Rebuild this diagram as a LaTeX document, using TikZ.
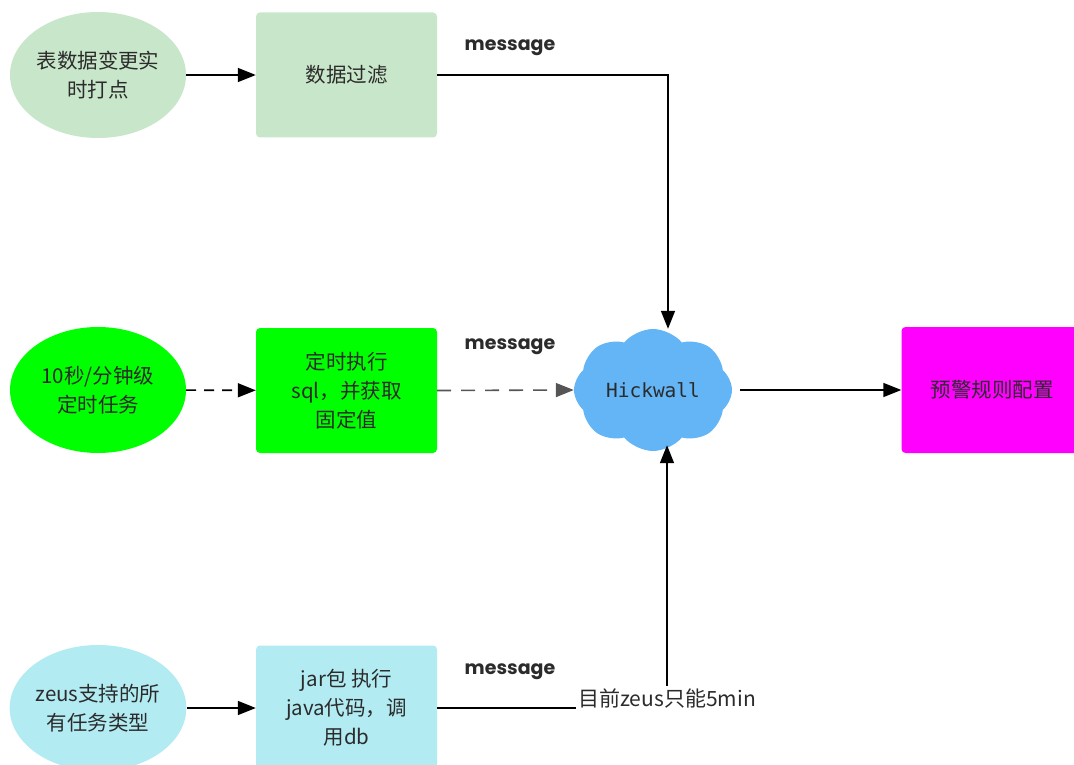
\documentclass[tikz,border=0pt]{standalone}
\usepackage{fontspec}
\setmainfont{Noto Sans CJK SC}
\newfontfamily\msgfont{Poppins}
\newfontfamily\hwfont{DejaVu Sans Mono}
\usetikzlibrary{shapes.geometric,shapes.symbols,arrows.meta}

\definecolor{txt}{HTML}{2B2B2B}
\definecolor{mint}{HTML}{C8E6C9}
\definecolor{lime}{HTML}{00FF00}
\definecolor{aqua}{HTML}{B2EBF2}
\definecolor{sky}{HTML}{64B5F6}
\definecolor{pink}{HTML}{FF00FF}
\definecolor{dashgray}{HTML}{555555}

\tikzset{
  blob/.style={ellipse, minimum width=176pt, minimum height=126pt, inner sep=0pt,
    align=center, text=txt, font=\fontsize{20.5}{29}\selectfont},
  card/.style={rectangle, rounded corners=4pt, minimum width=181pt, minimum height=125pt,
    inner sep=0pt, align=center, text=txt, font=\fontsize{20.5}{29}\selectfont},
  link/.style={line width=1.6pt, draw=black, -{Triangle[length=18pt,width=14pt]}},
  plain/.style={line width=1.6pt, draw=black},
  msg/.style={text=txt, font=\msgfont\bfseries\fontsize{19}{22}\selectfont},
}

\begin{document}
\begin{tikzpicture}[x=1pt,y=-1pt]
  \useasboundingbox (0,0) rectangle (1074,765);
  \clip (0,0) rectangle (1074,765);

  % row 1: table change events
  \node[blob, fill=mint] (e1) at (98,75) {表数据变更实\\时打点};
  \node[card, fill=mint] (b1) at (346.5,75) {数据过滤};
  \node[msg] (m1) at (510,48) {message};

  % row 2: scheduled sql jobs
  \node[blob, fill=lime] (e2) at (98,390) {10秒/分钟级\\定时任务};
  \node[card, fill=lime] (b2) at (346.5,390.5) {定时执行\\sql，并获取\\固定值};
  \node[msg] (m2) at (510,347) {message};

  % central collector
  \node[cloud, cloud puffs=8, cloud puff arc=100, aspect=1.3, fill=sky,
        minimum width=158pt, minimum height=122pt, inner sep=0pt,
        text=txt, font=\hwfont\fontsize{19.5}{22}\selectfont] (cloud) at (653,390) {Hickwall};
  \node[card, fill=pink, minimum height=126pt] (b3) at (992,390) {预警规则配置};

  % row 3: zeus jobs
  \node[blob, fill=aqua] (e3) at (98,708) {zeus支持的所\\有任务类型};
  \node[card, fill=aqua] (b4) at (346.5,708) {jar包 执行\\java代码，调\\用db};
  \node[msg] (m3) at (510,672) {message};
  \node[text=txt, font=\fontsize{21}{24}\selectfont, inner sep=2pt] (lbl) at (667,698) {目前zeus只能5min};

  % connectors
  \draw[link] (e1) -- (b1);
  \draw[link] (b1.east) -| ([xshift=15pt]cloud.north);
  \draw[link, dash pattern=on 10pt off 8pt] (e2) -- (b2);
  \draw[link, draw=dashgray, dash pattern=on 14pt off 10pt] (b2.east) -- (cloud.west);
  \draw[link, shorten <=8pt] (cloud.east) -- (b3.west);
  \draw[link] (e3) -- (b4);
  \draw[plain] (b4.east) -- (b4.east -| lbl.west);
  \draw[link, shorten >=-6pt] (lbl.north) -- (lbl.north |- cloud.south);
\end{tikzpicture}
\end{document}
